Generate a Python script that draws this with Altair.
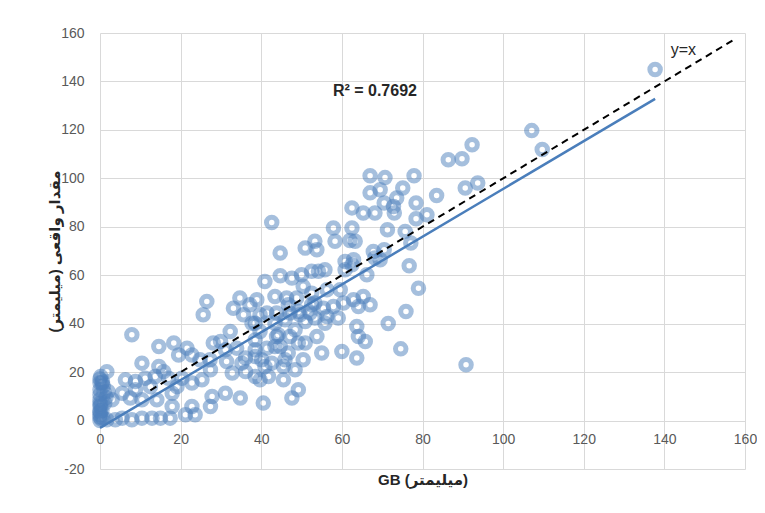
import altair as alt
import pandas as pd

gb_x = [137.7, 107.1, 109.7, 92.3, 89.8, 86.4, 93.7, 90.6, 83.5, 90.8,
        79.0, 78.4, 77.9, 75.1, 70.7, 69.5, 70.5, 73.6, 73.0, 78.4,
        81.1, 71.3, 75.7, 77.1, 70.5, 69.5, 76.7, 75.9, 71.5, 74.6,
        67.0, 67.0, 72.8, 68.2, 65.3, 62.5, 42.6, 57.9, 62.5, 58.3,
        62.0, 63.3, 53.3, 50.9, 53.8, 44.7, 60.8, 62.9, 67.8, 68.2,
        66.2, 40.9, 44.7, 47.6, 50.0, 52.5, 54.2, 55.8, 62.5, 60.8,
        50.4, 52.5, 56.3, 59.6, 62.9, 65.3, 67.0, 64.1, 60.4, 57.9,
        55.4, 53.3, 48.8, 46.3, 43.4, 38.9, 34.7, 37.2, 33.1, 26.5,
        25.6, 35.6, 39.7, 43.8, 47.1, 49.6, 52.1, 56.3, 59.1, 63.7,
        64.1, 65.8, 60.0, 63.7, 55.0, 50.4, 45.9, 43.8, 39.7, 32.3,
        28.1, 33.9, 38.5, 40.9, 35.2, 31.4, 27.3, 24.8, 47.1, 49.2,
        44.7, 41.4, 55.8, 53.8, 48.4, 45.5, 41.8, 40.1, 39.7, 49.2,
        47.6, 40.5, 46.7, 50.9, 44.2, 48.4, 45.9, 43.4, 50.9, 53.3,
        49.2, 52.5, 46.7, 41.4, 38.5, 43.4, 38.5, 38.5, 42.6, 45.5,
        7.9, 14.6, 18.3, 21.6, 19.5, 22.8, 10.4, 14.6, 15.8, 1.7,
        6.3, 8.8, 11.2, 13.7, 12.5, 17.0, 19.1, 20.3, 22.8, 25.3,
        27.4, 29.9, 31.1, 36.1, 38.5, 37.7, 32.8, 36.1, 34.8, 31.1,
        27.8, 27.4, 23.6, 22.8, 21.2, 17.9, 17.4, 15.0, 12.9, 10.4,
        7.9, 5.5, 3.8, 1.7, 17.9, 14.1, 10.4, 7.5, 8.8, 5.5,
        3.0, 0.0, 0.0, 0.0, 0.0, 0.2, 0.5, 0.0, 0.7, 0.0,
        0.5, 0.0, 1.0, 0.0, 1.2, 0.3, 0.8, 0.2, 0.0, 0.0,
        0.0, 0.0, 1.5, 2.0, 0.6]
observed_y = [144.9, 119.7, 111.9, 113.9, 108.1, 107.7, 98.1, 96.0, 92.9, 23.0,
              54.6, 89.8, 101.1, 96.0, 100.3, 95.3, 89.8, 91.9, 85.7, 83.3,
              85.0, 78.8, 78.1, 73.3, 70.5, 66.4, 63.9, 45.0, 40.1, 29.6,
              101.1, 94.0, 88.4, 85.7, 85.7, 87.8, 81.8, 79.5, 79.5, 74.0,
              74.3, 74.0, 74.0, 71.2, 70.5, 69.2, 65.7, 66.4, 69.8, 67.1,
              60.2, 57.4, 59.8, 58.8, 60.2, 61.6, 61.6, 62.3, 64.3, 62.3,
              55.4, 52.6, 54.0, 54.0, 49.9, 51.2, 47.8, 47.1, 48.5, 47.1,
              46.4, 48.5, 50.6, 50.6, 51.2, 49.9, 50.6, 47.8, 46.4, 49.2,
              43.7, 43.7, 43.7, 44.4, 44.4, 43.7, 44.4, 43.0, 42.3, 38.8,
              34.7, 32.6, 28.5, 25.8, 27.9, 25.1, 25.1, 34.7, 36.8, 36.8,
              32.0, 29.9, 26.4, 22.3, 23.7, 24.4, 25.1, 25.1, 34.7, 32.0,
              30.6, 29.9, 40.2, 34.7, 21.0, 16.8, 18.2, 25.1, 16.8, 12.7,
              9.3, 7.2, 27.9, 32.0, 35.4, 37.5, 41.6, 40.2, 40.9, 42.3,
              45.0, 47.8, 47.8, 44.4, 40.2, 30.6, 29.2, 18.2, 23.7, 22.3,
              35.4, 30.6, 32.0, 29.9, 27.1, 27.1, 23.7, 22.3, 20.2, 20.2,
              16.8, 16.1, 17.5, 18.2, 14.0, 17.5, 14.0, 17.5, 15.5, 16.8,
              21.0, 32.6, 29.2, 25.8, 33.3, 40.2, 19.6, 20.2, 9.3, 11.3,
              9.9, 5.8, 2.4, 5.8, 2.4, 5.8, 1.0, 1.0, 1.0, 1.0,
              0.3, 1.0, 0.3, 0.3, 11.3, 8.6, 8.6, 9.3, 12.7, 11.3,
              8.6, 12.7, 5.8, 8.6, 10.7, 6.5, 4.4, 2.4, 1.1, 15.6,
              15.5, 17.2, 11.8, 3.5, 7.2, 0.7, 14.3, 18.2, 0.0, 1.5,
              4.0, 7.0, 9.5, 12.0, 16.0]

trend_x = [0.0, 137.7]
trend_y = [-3.0, 132.8]
ref_x = [12.5, 157.0]
ref_y = [12.5, 157.0]

r2_label = ["R² = 0.7692"]
r2_x = [68.2]
r2_y = [136.2]
yx_label = ["y=x"]
yx_x = [144.7]
yx_y = [152.8]

x_ticks = [0, 20, 40, 60, 80, 100, 120, 140, 160]
y_ticks = [-20, 0, 20, 40, 60, 80, 100, 120, 140, 160]

FONT = "Liberation Sans, DejaVu Sans, sans-serif"

pts = pd.DataFrame({"x": gb_x, "y": observed_y})
trend = pd.DataFrame({"x": trend_x, "y": trend_y})
ref = pd.DataFrame({"x": ref_x, "y": ref_y})
r2 = pd.DataFrame({"x": r2_x, "y": r2_y, "t": r2_label})
yx = pd.DataFrame({"x": yx_x, "y": yx_y, "t": yx_label})

x_enc = alt.X(
    "x:Q",
    scale=alt.Scale(domain=[0, 160], nice=False, zero=False),
    axis=alt.Axis(
        values=x_ticks, title="GB (میلیمتر)", offset=-48.4,
        domain=False, ticks=False, tickSize=0, labelPadding=12,
        grid=True, labelFlush=False, titlePadding=26, titleFontSize=15,
        labelExpr="'' + datum.value",
    ),
)
y_enc = alt.Y(
    "y:Q",
    scale=alt.Scale(domain=[-20, 160], nice=False, zero=False),
    axis=alt.Axis(
        values=y_ticks, title="مقدار واقعی (میلیمتر)\u200f",
        domain=False, ticks=False, tickSize=0, labelPadding=16,
        grid=True, labelFlush=False,
        titlePadding=-2, titleFontSize=15,
        labelExpr="'' + datum.value",
    ),
)

points = alt.Chart(pts).mark_point(
    shape="circle", filled=False, size=110, strokeWidth=5,
    color="#4f81bd", strokeOpacity=0.72,
).encode(x=x_enc, y=y_enc)

trend_line = alt.Chart(trend).mark_line(
    color="#4a7ebb", strokeWidth=2.5
).encode(x=x_enc, y=y_enc)

ref_line = alt.Chart(ref).mark_line(
    color="#000000", strokeWidth=2, strokeDash=[7, 5]
).encode(x=x_enc, y=y_enc)

r2_text = alt.Chart(r2).mark_text(
    font=FONT, fontSize=16, fontWeight="bold", color="#262626",
    align="center", baseline="middle",
).encode(x=x_enc, y=y_enc, text="t:N")

yx_text = alt.Chart(yx).mark_text(
    font=FONT, fontSize=16, color="#262626",
    align="center", baseline="middle",
).encode(x=x_enc, y=y_enc, text="t:N")

chart = alt.layer(points, trend_line, ref_line, r2_text, yx_text).properties(
    width=645, height=436,
    autosize=alt.AutoSizeParams(type="none"),
    padding={"left": 92, "top": 25, "right": 12, "bottom": 32},
).configure_view(stroke=None).configure_axis(
    gridColor="#d9d9d9", gridWidth=1,
    labelFont=FONT, labelFontSize=14, labelColor="#595959",
    titleFont=FONT, titleFontSize=14, titleFontWeight="bold", titleColor="#262626",
)

chart.save("out.html", embed_options={"renderer": "svg", "actions": False})
